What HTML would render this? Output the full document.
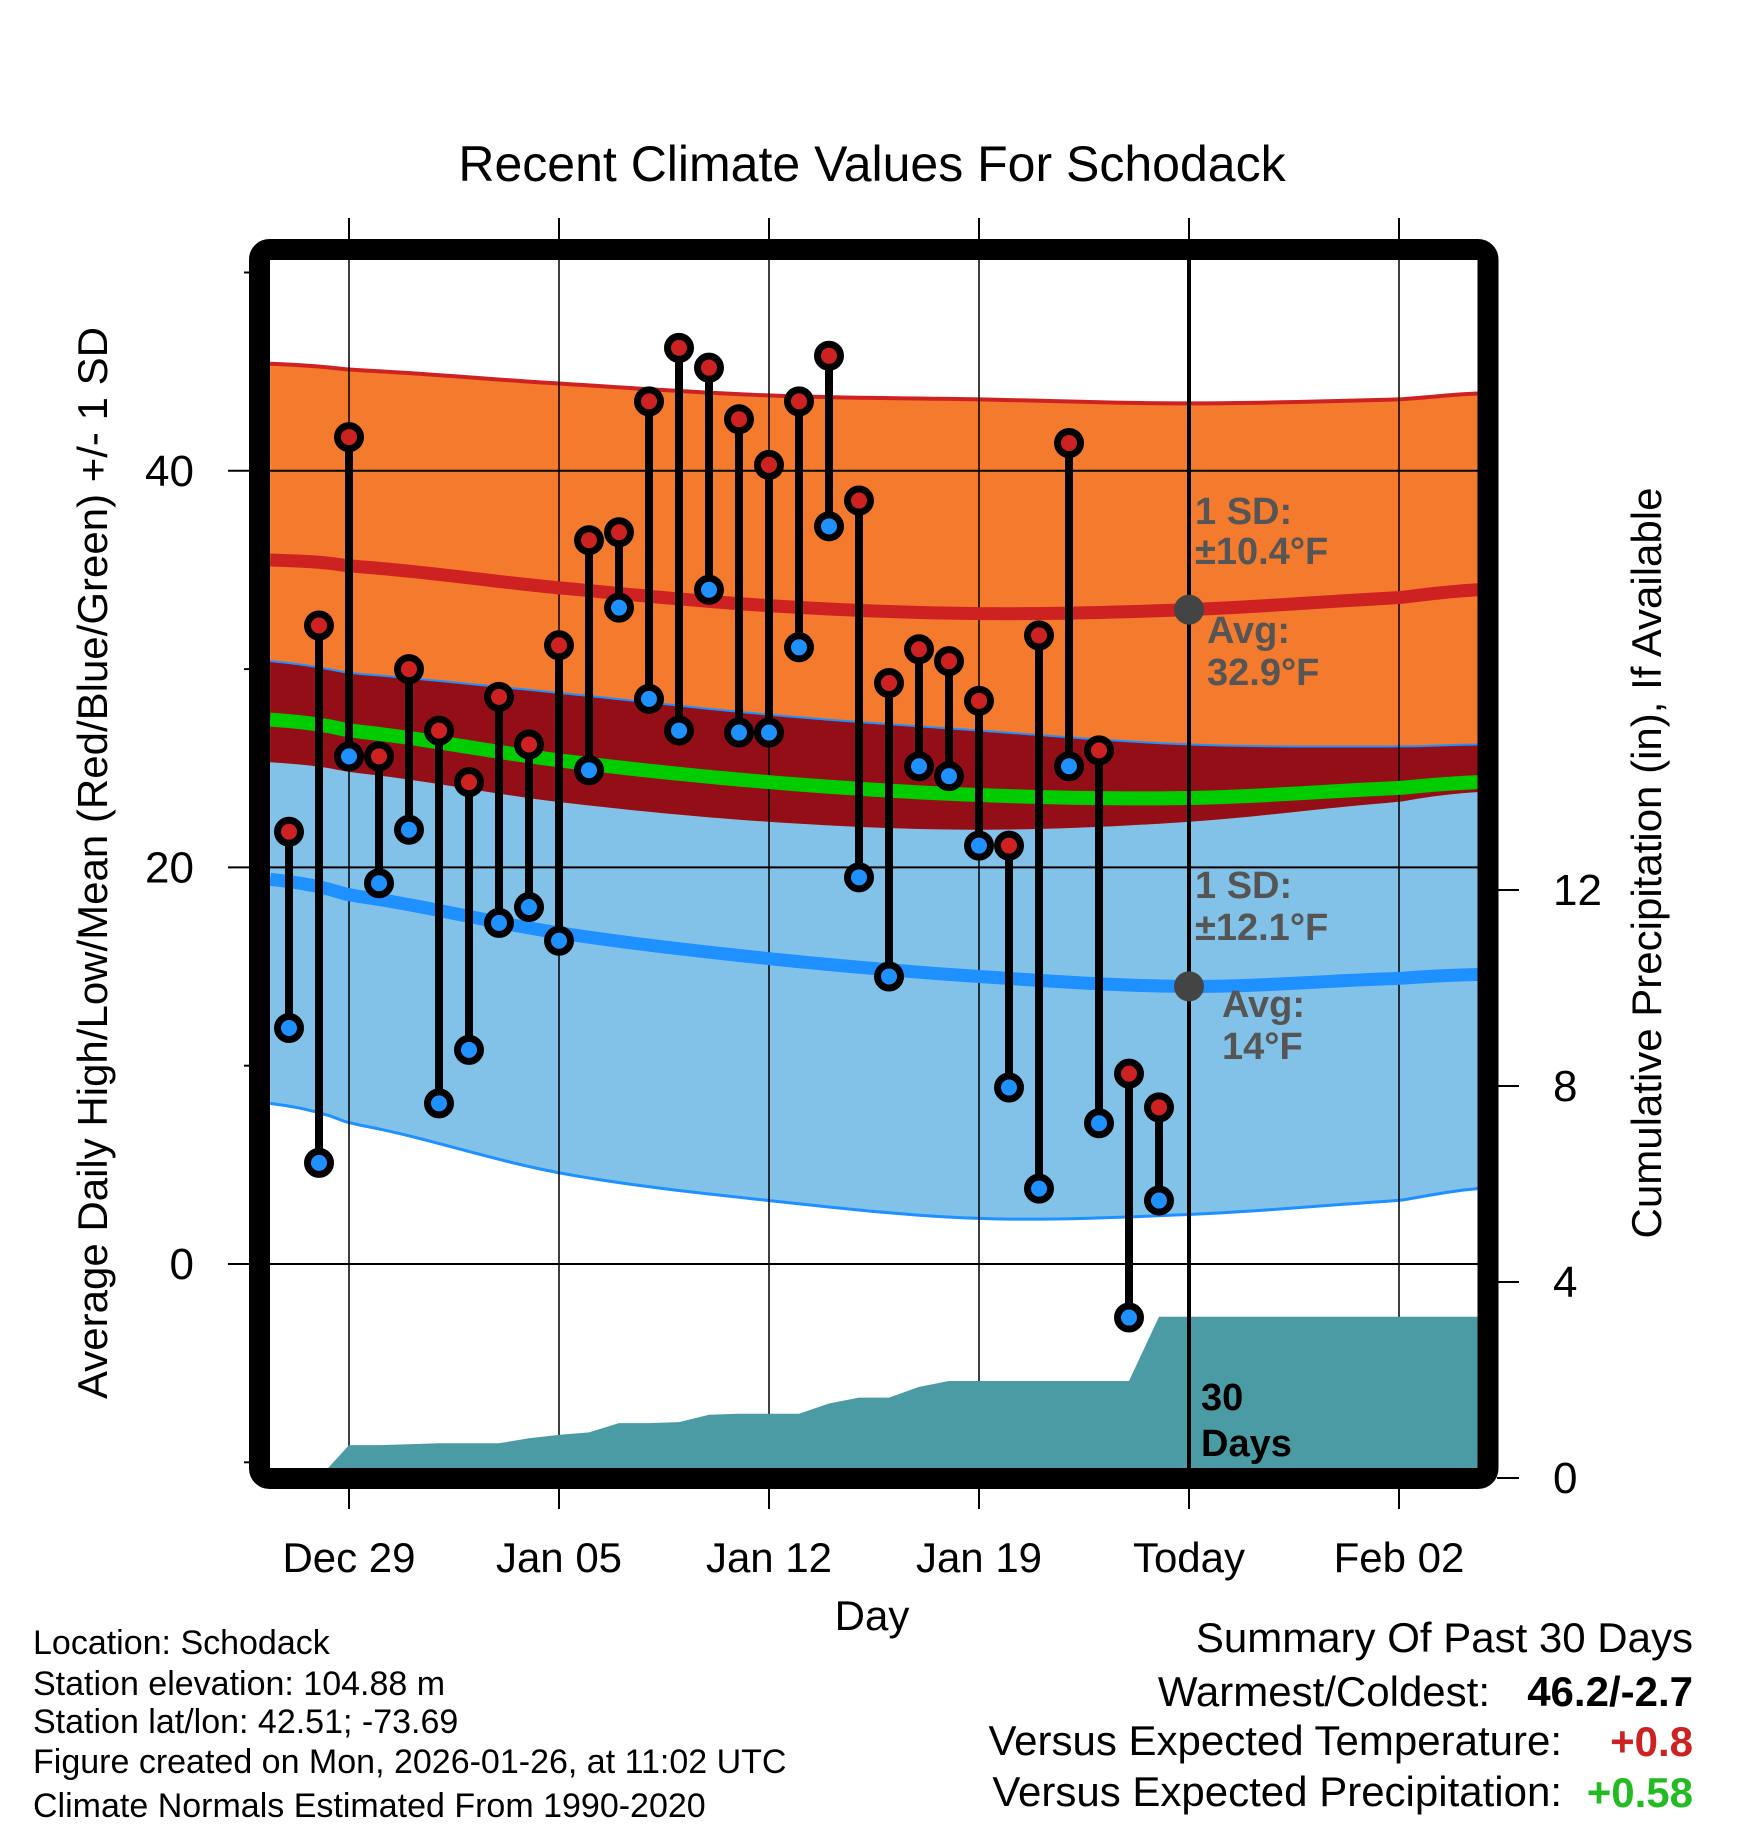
<!DOCTYPE html>
<html><head><meta charset="utf-8"><style>
body{margin:0;background:#fff;}
svg{display:block;font-family:"Liberation Sans",sans-serif;}
</style></head><body>
<svg id="chart" width="1748" height="1828" viewBox="0 0 1748 1828" xmlns="http://www.w3.org/2000/svg">
<defs><clipPath id="pc"><rect x="270" y="260" width="1208" height="1208"/></clipPath></defs>
<rect width="1748" height="1828" fill="#fff"/>
<text x="872" y="181" font-size="50" text-anchor="middle">Recent Climate Values For Schodack</text>
<g id="plot" clip-path="url(#pc)"></g>
<g id="over"></g>
<rect x="259.5" y="249.5" width="1228.5" height="1229" rx="10" fill="none" stroke="#000" stroke-width="21"/>
<g id="axes"></g>
<text x="872" y="1630" font-size="42" text-anchor="middle">Day</text>
<text transform="translate(107,863) rotate(-90)" font-size="42" text-anchor="middle">Average Daily High/Low/Mean (Red/Blue/Green) +/- 1 SD</text>
<text transform="translate(1661,863) rotate(-90)" font-size="42" text-anchor="middle">Cumulative Precipitation (in), If Available</text>
<g font-size="34">
<text x="33" y="1654">Location: Schodack</text>
<text x="33" y="1695">Station elevation: 104.88 m</text>
<text x="33" y="1733">Station lat/lon: 42.51; -73.69</text>
<text x="33" y="1773">Figure created on Mon, 2026-01-26, at 11:02 UTC</text>
<text x="33" y="1817">Climate Normals Estimated From 1990-2020</text>
</g>
<g font-size="42">
<text x="1693" y="1652" text-anchor="end">Summary Of Past 30 Days</text>
<text x="1490" y="1706" text-anchor="end">Warmest/Coldest:</text>
<text x="1693" y="1706" text-anchor="end" font-weight="bold">46.2/-2.7</text>
<text x="1562" y="1755" text-anchor="end">Versus Expected Temperature:</text>
<text x="1693" y="1756" text-anchor="end" font-weight="bold" fill="#CE2222">+0.8</text>
<text x="1562" y="1806" text-anchor="end">Versus Expected Precipitation:</text>
<text x="1693" y="1807" text-anchor="end" font-weight="bold" fill="#22BB22">+0.58</text>
</g>
</svg>
<script>
const normDays=[-2.63,0,7,14,21,28,35,37.63];
const hiTop=[45.4,45.1,44.4,43.8,43.6,43.4,43.6,43.9];
const hiAvg=[35.5,35.2,34.1,33.2,32.8,33.0,33.6,34.0];
const hiBot=[25.3,24.8,23.3,22.3,21.9,22.3,23.3,23.8];
const loTop=[30.4,29.8,28.8,27.7,26.9,26.2,26.1,26.2];
const loAvg=[19.4,18.6,16.7,15.4,14.5,14.0,14.4,14.6];
const loBot=[8.1,7.1,4.6,3.2,2.3,2.5,3.2,3.8];
const obsDays=[-2,-1,0,1,2,3,4,5,6,7,8,9,10,11,12,13,14,15,16,17,18,19,20,21,22,23,24,25,26,27];
const highs=[21.8,32.2,41.7,25.6,30.0,26.9,24.3,28.6,26.2,31.2,36.5,36.9,43.5,46.2,45.2,42.6,40.3,43.5,45.8,38.5,29.3,31.0,30.4,28.4,21.1,31.7,41.4,25.9,9.6,7.9];
const lows=[11.9,5.1,25.6,19.2,21.9,8.1,10.8,17.2,18.0,16.3,24.9,33.1,28.5,26.9,34.0,26.8,26.8,31.1,37.2,19.5,14.5,25.1,24.6,21.1,8.9,3.8,25.1,7.1,-2.7,3.2];
const precip=[0,0,0.67,0.67,0.69,0.71,0.71,0.71,0.81,0.88,0.93,1.12,1.12,1.14,1.29,1.31,1.31,1.31,1.52,1.64,1.64,1.86,1.98,1.98,1.98,1.98,1.98,1.98,1.98,3.29];
const xTickDays=[0,7,14,21,28,35];
const xTickLabels=["Dec 29","Jan 05","Jan 12","Jan 19","Today","Feb 02"];
const yTicks=[0,20,40];
const yMinor=[-10,10,30,50];
const y2Ticks=[0,4,8,12];
const todayDay=28;

const NS="http://www.w3.org/2000/svg";
const X=d=>349+30*d, Y=v=>1264-19.83*v, YP=p=>1478-49*p;
const plot=document.getElementById('plot'), over=document.getElementById('over'), axes=document.getElementById('axes');
function mk(tag,attrs,parent){const e=document.createElementNS(NS,tag);for(const k in attrs)e.setAttribute(k,attrs[k]);parent.appendChild(e);return e;}
function interp(arr,d){
  const n=normDays.length;
  let i=0;while(i<n-2&&d>normDays[i+1])i++;
  const t=(d-normDays[i])/(normDays[i+1]-normDays[i]);
  const p0=arr[Math.max(i-1,0)],p1=arr[i],p2=arr[i+1],p3=arr[Math.min(i+2,n-1)];
  const t2=t*t,t3=t2*t;
  return 0.5*((2*p1)+(-p0+p2)*t+(2*p0-5*p1+4*p2-p3)*t2+(-p0+3*p1-3*p2+p3)*t3);
}
const sampleDays=[];for(let k=0;k<=80;k++){sampleDays.push(normDays[0]+(normDays[normDays.length-1]-normDays[0])*k/80);}
function curve(arr){return sampleDays.map(d=>X(d)+','+Y(interp(arr,d)));}
function line(arr){return curve(arr).join(' ');}
function band(top,bot){return curve(top).concat(curve(bot).reverse()).join(' ');}
const ovTop=loTop.map((v,i)=>Math.min(v,hiTop[i]));
let e;
e=mk('polygon',{points:band(loTop,loBot),fill:'#82C1E8'},plot);


e=mk('polygon',{points:band(hiTop,hiBot),fill:'#F47A2E'},plot);


e=mk('polygon',{points:band(ovTop,hiBot),fill:'#930E16'},plot);


e=mk('polyline',{points:line(hiTop),fill:'none',stroke:'#CE2222','stroke-width':4},plot);


e=mk('polyline',{points:line(loTop),fill:'none',stroke:'#1E90FF','stroke-width':2},plot);


e=mk('polyline',{points:line(loBot),fill:'none',stroke:'#1E90FF','stroke-width':3},plot);


yTicks.forEach(v=>{
  const g=mk('line',{x1:270,x2:1478,y1:Y(v),y2:Y(v),stroke:'#000','stroke-width':2},plot);
  
  
});
xTickDays.forEach((d,i)=>{
  if(d===todayDay)return;
  const g=mk('line',{x1:X(d),x2:X(d),y1:260,y2:1468,stroke:'#000','stroke-width':1.5},plot);
  
  
});
let pts=obsDays.map((d,i)=>X(d)+','+YP(precip[i]));
pts.push(X(37.8)+','+YP(precip[precip.length-1]));pts.push(X(37.8)+','+YP(0));pts.push(X(obsDays[0])+','+YP(0));
e=mk('polygon',{points:pts.join(' '),fill:'#4A9BA4'},plot);


const mean=hiAvg.map((v,i)=>(v+loAvg[i])/2);
e=mk('polyline',{points:line(mean),fill:'none',stroke:'#00CC00','stroke-width':14},plot);


e=mk('polyline',{points:line(hiAvg),fill:'none',stroke:'#CE2222','stroke-width':13},plot);


e=mk('polyline',{points:line(loAvg),fill:'none',stroke:'#1E90FF','stroke-width':13},plot);


e=mk('line',{x1:X(todayDay),x2:X(todayDay),y1:260,y2:1468,stroke:'#000','stroke-width':4},plot);


e=mk('circle',{cx:X(todayDay),cy:Y(interp(hiAvg,todayDay)),r:15,fill:'#444'},plot);


e=mk('circle',{cx:X(todayDay),cy:Y(interp(loAvg,todayDay)),r:15,fill:'#444'},plot);


obsDays.forEach((d,i)=>{
  const s=mk('line',{x1:X(d),x2:X(d),y1:Y(highs[i]),y2:Y(lows[i]),stroke:'#000','stroke-width':8},over);
  
  
});
obsDays.forEach((d,i)=>{
  const h=mk('circle',{cx:X(d),cy:Y(highs[i]),r:11.5,fill:'#CE2222',stroke:'#000','stroke-width':7},over);
  
  
  const l=mk('circle',{cx:X(d),cy:Y(lows[i]),r:11.5,fill:'#1E90FF',stroke:'#000','stroke-width':7},over);
  
  
});
const ann=[["1 SD:",1195,524],["±10.4°F",1195,564],["Avg:",1207,643],["32.9°F",1207,685],["1 SD:",1195,898],["±12.1°F",1195,940],["Avg:",1222,1017],["14°F",1222,1059]];
ann.forEach(a=>{
  const t=mk('text',{x:a[1],y:a[2],'font-size':38,'font-weight':'bold',fill:'#555'},over);
  t.textContent=a[0];
  
  
});
[["30",1201,1410],["Days",1201,1456]].forEach(a=>{
  const t=mk('text',{x:a[1],y:a[2],'font-size':38,'font-weight':'bold',fill:'#000'},over);
  t.textContent=a[0];
  
  
});
yTicks.forEach(v=>{
  const t=mk('line',{x1:228,x2:250,y1:Y(v),y2:Y(v),stroke:'#000','stroke-width':2},axes);
  
  
  const l=mk('text',{x:194,y:Y(v)+15,'font-size':44,'text-anchor':'end'},axes);
  l.textContent=v;
  
  
});
yMinor.forEach(v=>{
  const t=mk('line',{x1:244,x2:250,y1:Y(v),y2:Y(v),stroke:'#000','stroke-width':2},axes);
  
  
});
y2Ticks.forEach(v=>{
  const t=mk('line',{x1:1497,x2:1519,y1:YP(v),y2:YP(v),stroke:'#000','stroke-width':2},axes);
  
  
  const l=mk('text',{x:1553,y:YP(v)+15,'font-size':44},axes);
  l.textContent=v;
  
  
});
xTickDays.forEach((d,i)=>{
  const t=mk('line',{x1:X(d),x2:X(d),y1:1488,y2:1509,stroke:'#000','stroke-width':2},axes);
  
  
  const t2=mk('line',{x1:X(d),x2:X(d),y1:218,y2:240,stroke:'#000','stroke-width':2},axes);
  
  
  const l=mk('text',{x:X(d),y:1572,'font-size':42,'text-anchor':'middle'},axes);
  l.textContent=xTickLabels[i];
  
  
});
</script>
</body></html>
